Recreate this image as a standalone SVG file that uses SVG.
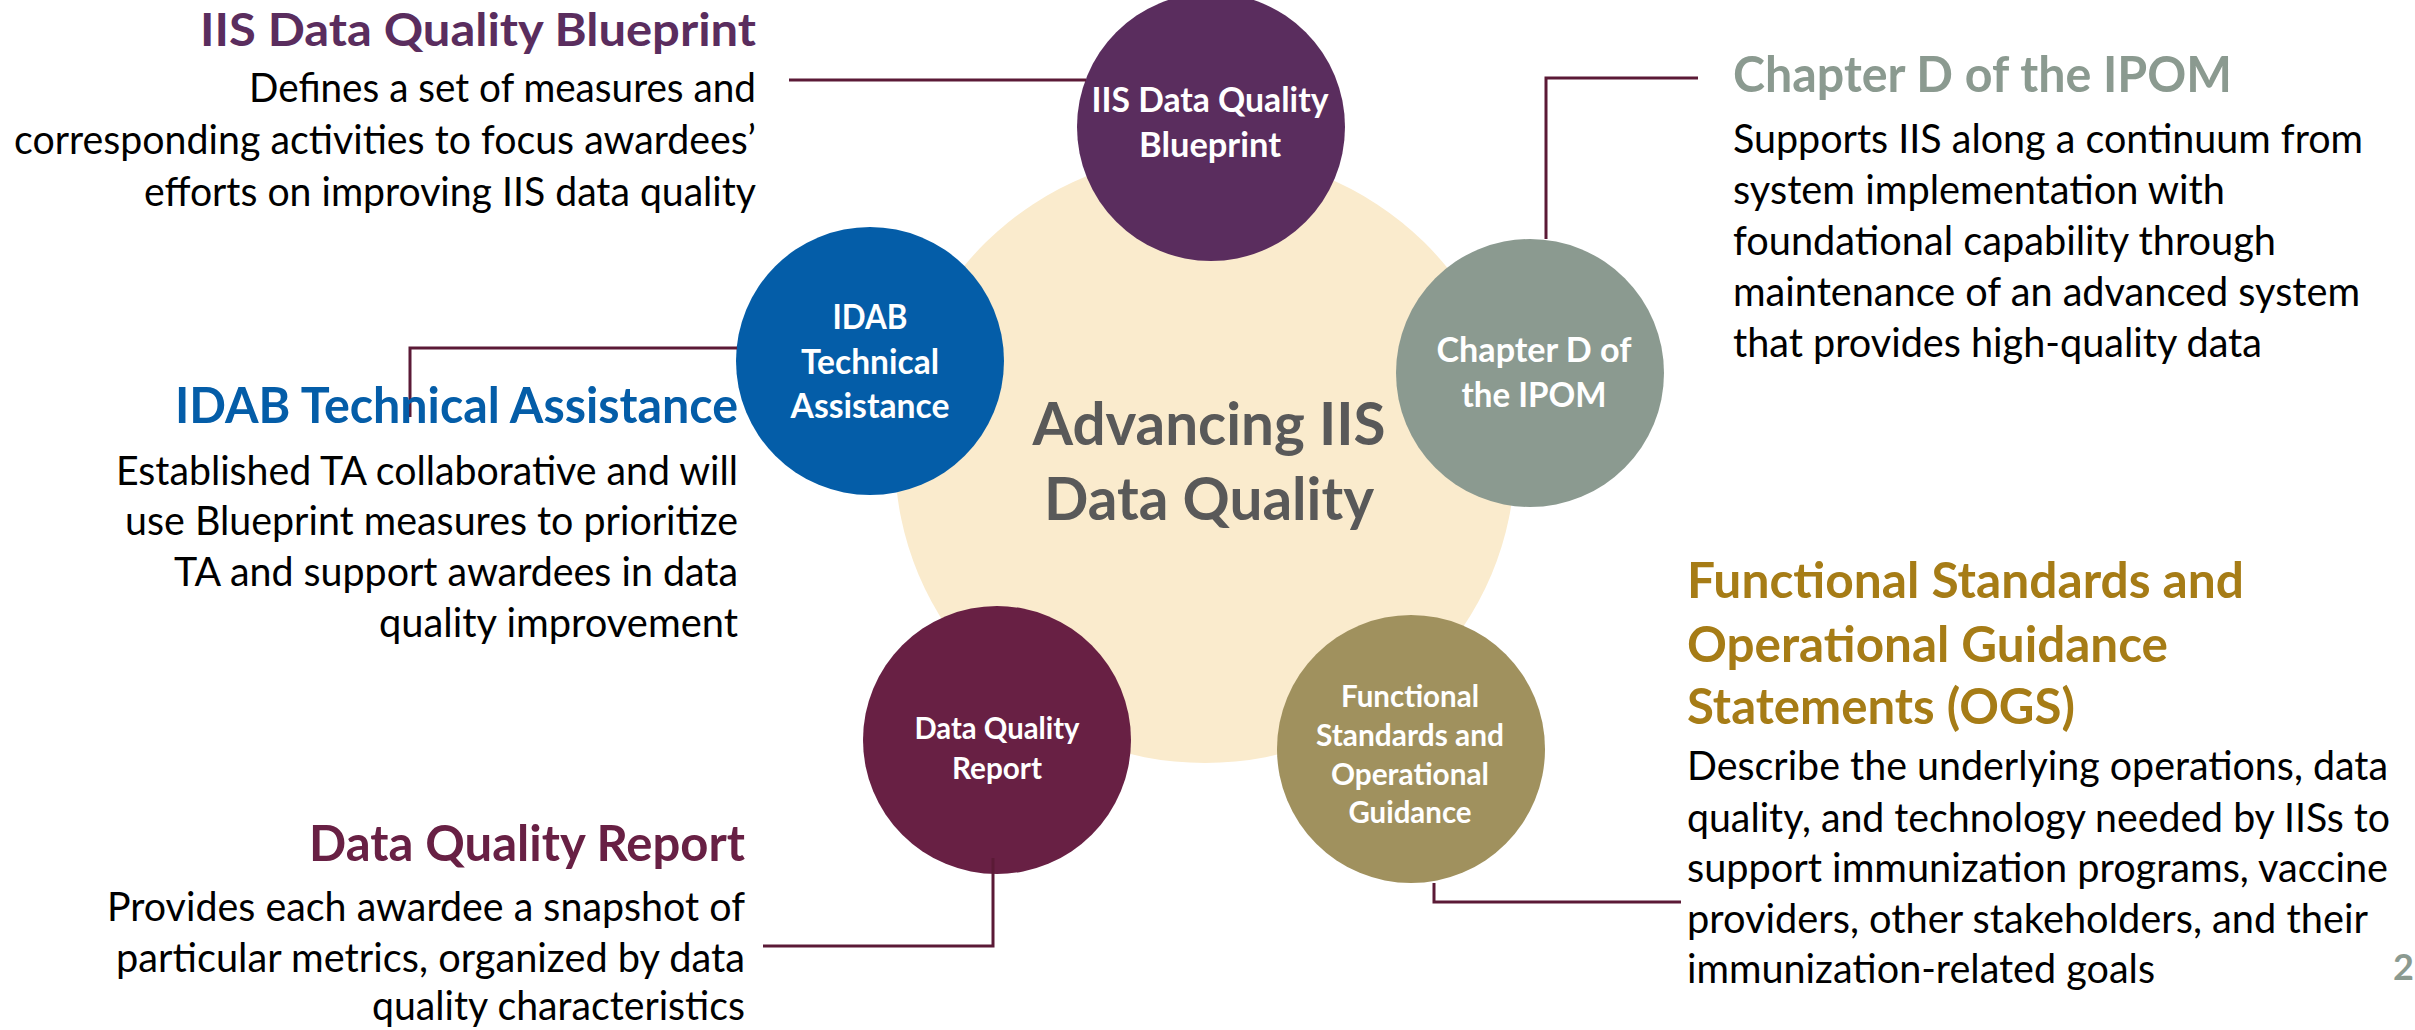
<svg xmlns="http://www.w3.org/2000/svg" width="2415" height="1030" viewBox="0 0 2415 1030">
<style>
  text { font-family: Lato, "Open Sans", "Liberation Sans", sans-serif; }
  .body { font-size: 40px; fill: #000000; }
  .title { font-size: 49px; font-weight: 700; }
  .end { text-anchor: end; }
  .ct { font-weight: 700; fill: #ffffff; text-anchor: middle; }
  .big { font-size: 34px; }
  .small { font-size: 29.5px; }
  .center { font-size: 60px; font-weight: 700; fill: #595959; text-anchor: middle; }
  .conn { fill: none; stroke: #5B1A36; stroke-width: 3; }
</style>
<rect width="2415" height="1030" fill="#ffffff"/>

<g id="hub">
  <ellipse cx="1205" cy="458" rx="310" ry="305" fill="#FAEBCD"/>
  <text class="center" x="1209" y="445" textLength="353" lengthAdjust="spacingAndGlyphs">Advancing IIS</text>
  <text class="center" x="1209" y="520" textLength="330" lengthAdjust="spacingAndGlyphs">Data Quality</text>
</g>

<g id="node-blueprint">
  <circle cx="1211" cy="127" r="134" fill="#5A2D5E"/>
  <text class="ct big" x="1210" y="112" textLength="237" lengthAdjust="spacingAndGlyphs">IIS Data Quality</text>
  <text class="ct big" x="1210" y="157" textLength="142" lengthAdjust="spacingAndGlyphs">Blueprint</text>
</g>

<g id="node-idab">
  <circle cx="870" cy="361" r="134" fill="#045DA8"/>
  <text class="ct big" x="870" y="329" textLength="75" lengthAdjust="spacingAndGlyphs">IDAB</text>
  <text class="ct big" x="870" y="374" textLength="138" lengthAdjust="spacingAndGlyphs">Technical</text>
  <text class="ct big" x="870" y="418" textLength="159" lengthAdjust="spacingAndGlyphs">Assistance</text>
</g>

<g id="node-chapterd">
  <circle cx="1530" cy="373" r="134" fill="#8B9A90"/>
  <text class="ct big" x="1534" y="362" textLength="195" lengthAdjust="spacingAndGlyphs">Chapter D of</text>
  <text class="ct big" x="1534" y="407" textLength="145" lengthAdjust="spacingAndGlyphs">the IPOM</text>
</g>

<g id="node-dqreport">
  <circle cx="997" cy="740" r="134" fill="#682044"/>
  <text class="ct small" x="997" y="739" textLength="165" lengthAdjust="spacingAndGlyphs">Data Quality</text>
  <text class="ct small" x="997" y="779" textLength="90" lengthAdjust="spacingAndGlyphs">Report</text>
</g>

<g id="node-fsogs">
  <circle cx="1411" cy="749" r="134" fill="#A0915E"/>
  <text class="ct small" x="1410" y="707" textLength="138" lengthAdjust="spacingAndGlyphs">Functional</text>
  <text class="ct small" x="1410" y="746" textLength="188" lengthAdjust="spacingAndGlyphs">Standards and</text>
  <text class="ct small" x="1410" y="785" textLength="158" lengthAdjust="spacingAndGlyphs">Operational</text>
  <text class="ct small" x="1410" y="823" textLength="123" lengthAdjust="spacingAndGlyphs">Guidance</text>
</g>

<g id="connectors">
  <path class="conn" d="M789,80 H1086"/>
  <path class="conn" d="M737,348 H410 V417"/>
  <path class="conn" d="M1698,78 H1546 V239"/>
  <path class="conn" d="M993,858 V946 H763"/>
  <path class="conn" d="M1434,883 V902 H1681"/>
</g>

<g id="desc-blueprint">
  <text class="end" x="756" y="46" font-size="46" font-weight="700" fill="#5A2D5E" textLength="556" lengthAdjust="spacingAndGlyphs">IIS Data Quality Blueprint</text>
  <text class="body end" x="756" y="102" textLength="507" lengthAdjust="spacingAndGlyphs">Defines a set of measures and</text>
  <text class="body end" x="756" y="154" textLength="742" lengthAdjust="spacingAndGlyphs">corresponding activities to focus awardees’</text>
  <text class="body end" x="756" y="206" textLength="612" lengthAdjust="spacingAndGlyphs">efforts on improving IIS data quality</text>
</g>

<g id="desc-idab">
  <text class="title end" x="738" y="423" fill="#045DA8" textLength="563" lengthAdjust="spacingAndGlyphs">IDAB Technical Assistance</text>
  <text class="body end" x="738" y="485" textLength="622" lengthAdjust="spacingAndGlyphs">Established TA collaborative and will</text>
  <text class="body end" x="738" y="535" textLength="613" lengthAdjust="spacingAndGlyphs">use Blueprint measures to prioritize</text>
  <text class="body end" x="738" y="586" textLength="564" lengthAdjust="spacingAndGlyphs">TA and support awardees in data</text>
  <text class="body end" x="738" y="637" textLength="359" lengthAdjust="spacingAndGlyphs">quality improvement</text>
</g>

<g id="desc-dqreport">
  <text class="title end" x="745" y="861" fill="#682044" textLength="436" lengthAdjust="spacingAndGlyphs">Data Quality Report</text>
  <text class="body end" x="745" y="921" textLength="638" lengthAdjust="spacingAndGlyphs">Provides each awardee a snapshot of</text>
  <text class="body end" x="745" y="972" textLength="629" lengthAdjust="spacingAndGlyphs">particular metrics, organized by data</text>
  <text class="body end" x="745" y="1020" textLength="373" lengthAdjust="spacingAndGlyphs">quality characteristics</text>
</g>

<g id="desc-chapterd">
  <text class="title" x="1733" y="92" fill="#8B9A90" textLength="499" lengthAdjust="spacingAndGlyphs">Chapter D of the IPOM</text>
  <text class="body" x="1733" y="153" textLength="630" lengthAdjust="spacingAndGlyphs">Supports IIS along a continuum from</text>
  <text class="body" x="1733" y="204" textLength="492" lengthAdjust="spacingAndGlyphs">system implementation with</text>
  <text class="body" x="1733" y="255" textLength="543" lengthAdjust="spacingAndGlyphs">foundational capability through</text>
  <text class="body" x="1733" y="306" textLength="627" lengthAdjust="spacingAndGlyphs">maintenance of an advanced system</text>
  <text class="body" x="1733" y="357" textLength="529" lengthAdjust="spacingAndGlyphs">that provides high-quality data</text>
</g>

<g id="desc-fsogs">
  <text class="title" x="1687" y="598" fill="#A67C16" textLength="557" lengthAdjust="spacingAndGlyphs">Functional Standards and</text>
  <text class="title" x="1687" y="662" fill="#A67C16" textLength="481" lengthAdjust="spacingAndGlyphs">Operational Guidance</text>
  <text class="title" x="1687" y="724" fill="#A67C16" textLength="388" lengthAdjust="spacingAndGlyphs">Statements (OGS)</text>
  <text class="body" x="1687" y="780" textLength="701" lengthAdjust="spacingAndGlyphs">Describe the underlying operations, data</text>
  <text class="body" x="1687" y="832" textLength="703" lengthAdjust="spacingAndGlyphs">quality, and technology needed by IISs to</text>
  <text class="body" x="1687" y="882" textLength="701" lengthAdjust="spacingAndGlyphs">support immunization programs, vaccine</text>
  <text class="body" x="1687" y="933" textLength="681" lengthAdjust="spacingAndGlyphs">providers, other stakeholders, and their</text>
  <text class="body" x="1687" y="983" textLength="468" lengthAdjust="spacingAndGlyphs">immunization-related goals</text>
</g>

<text x="2393" y="980" font-size="36" font-weight="700" fill="#8B9A90">2</text>
</svg>
